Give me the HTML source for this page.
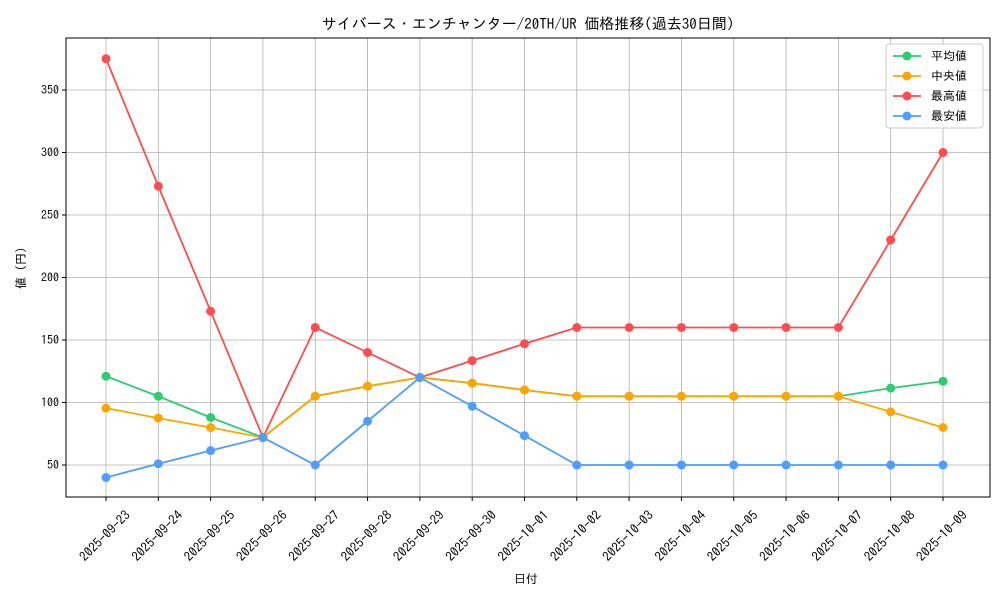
<!DOCTYPE html>
<html><head><meta charset="utf-8"><style>
body{margin:0;background:#fff;}
svg text{font-family:"IPAGothic","Noto Sans CJK JP",sans-serif;fill:#000;}
</style></head><body>
<svg id="chart" width="1000" height="600"></svg>
<script>
const dates=["2025-09-23","2025-09-24","2025-09-25","2025-09-26","2025-09-27","2025-09-28","2025-09-29","2025-09-30","2025-10-01","2025-10-02","2025-10-03","2025-10-04","2025-10-05","2025-10-06","2025-10-07","2025-10-08","2025-10-09"];
const avgVals=[121,105,88,72,105,113,120,115.5,110,105,105,105,105,105,105,111.5,117];
const medVals=[95.5,87.5,80,72,105,113,120,115.5,110,105,105,105,105,105,105,92.5,80];
const maxVals=[375,273,173,72,160,140,120,133.5,147,160,160,160,160,160,160,230,300];
const minVals=[40,51,61.5,72,50,85,120,97,73.5,50,50,50,50,50,50,50,50];
const yTicks=[50,100,150,200,250,300,350];
const seriesNames=["平均値","中央値","最高値","最安値"];
const seriesColors=["#2ecc71","#ffa500","#ff4d4d","#4d9eff"];
const seriesKeys=["avg","median","max","min"];
const seriesData=[avgVals,medVals,maxVals,minVals];

const NS="http://www.w3.org/2000/svg";
const svg=document.getElementById('chart');
const L=66,R=990,T=38,B=497;
const xs=i=>106+i*(943-106)/(dates.length-1);
const ys=v=>465-(v-50)*1.25;
function mk(tag,attrs,parent){const e=document.createElementNS(NS,tag);for(const k in attrs)e.setAttribute(k,attrs[k]);(parent||svg).appendChild(e);return e;}

dates.forEach((d,i)=>{
  const g=mk('line',{x1:xs(i),x2:xs(i),y1:T,y2:B,stroke:'#b0b0b0','stroke-width':0.8});
  
  
  mk('line',{x1:xs(i),x2:xs(i),y1:B,y2:B+4,stroke:'#000'});
  const t=mk('text',{x:0,y:0,'font-size':13,'text-anchor':'middle',transform:`translate(${xs(i)+2},${B+42}) rotate(-45)`});
  t.textContent=d;
  
  
});
yTicks.forEach(v=>{
  const g=mk('line',{x1:L,x2:R,y1:ys(v),y2:ys(v),stroke:'#b0b0b0','stroke-width':0.8});
  
  
  mk('line',{x1:L-4,x2:L,y1:ys(v),y2:ys(v),stroke:'#000'});
  const t=mk('text',{x:L-7,y:ys(v)+4,'font-size':12,'text-anchor':'end'});
  t.textContent=v;
  
  
});
const frame=mk('rect',{x:L,y:T,width:R-L,height:B-T,fill:'none',stroke:'#000','stroke-width':1});



seriesData.forEach((vals,s)=>{
  const g=mk('g',{});
  
  
  mk('polyline',{points:vals.map((v,i)=>xs(i)+','+ys(v)).join(' '),fill:'none',stroke:seriesColors[s],'stroke-width':1.8},g);
  vals.forEach((v,i)=>{
    const c=mk('circle',{cx:xs(i),cy:ys(v),r:4.5,fill:seriesColors[s]},g);
    
    
  });
});

const title=mk('text',{x:528,y:29,'font-size':15,'text-anchor':'middle'});
title.textContent="サイバース・エンチャンター/20TH/UR 価格推移(過去30日間)";


const xt=mk('text',{x:526,y:583,'font-size':12,'text-anchor':'middle'});
xt.textContent="日付";


const yt=mk('text',{x:0,y:0,'font-size':12,'text-anchor':'middle',transform:'translate(25,268) rotate(-90)'});
yt.textContent="値 (円)";



const lg=mk('g',{});


mk('rect',{x:886,y:44,width:97,height:84,rx:3,fill:'#fff','fill-opacity':0.85,stroke:'#ccc'},lg);
seriesNames.forEach((n,s)=>{
  const y=56+s*20;
  const e=mk('g',{},lg);
  
  
  mk('line',{x1:893,x2:921,y1:y,y2:y,stroke:seriesColors[s],'stroke-width':1.8},e);
  mk('circle',{cx:907,cy:y,r:4.5,fill:seriesColors[s]},e);
  const t=mk('text',{x:931,y:y+4,'font-size':12},e);
  t.textContent=n;
});
</script>
</body></html>
